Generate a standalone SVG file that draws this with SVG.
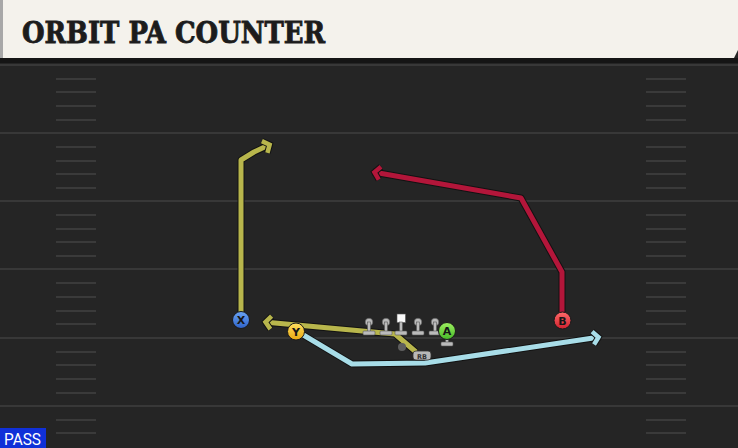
<svg xmlns="http://www.w3.org/2000/svg" width="738" height="448" viewBox="0 0 738 448">
<style>
.yard{stroke:#383838;stroke-width:2}
.hash{stroke:#3a3a3a;stroke-width:2}
.rt{fill:none;stroke-width:5;stroke-linejoin:round;stroke-linecap:butt}
.under{fill:none;stroke:#121212;stroke-width:7;stroke-linejoin:round}
.lbl{font-family:"DejaVu Sans","Liberation Sans",sans-serif;font-weight:bold;font-size:11px;fill:#161616;text-anchor:middle}
.ol{fill:#bbb;stroke:#555;stroke-width:0.6}
.chev{fill:none;stroke-width:4.5;stroke-linejoin:miter;stroke-linecap:butt}
.chevu{fill:none;stroke:#121212;stroke-width:6.5;stroke-linejoin:miter}
</style>
<defs>
<linearGradient id="gb" x1="0" y1="0" x2="0" y2="1"><stop offset="0" stop-color="#6aa4f4"/><stop offset="1" stop-color="#2e62c8"/></linearGradient>
<linearGradient id="gy" x1="0" y1="0" x2="0" y2="1"><stop offset="0" stop-color="#ffe060"/><stop offset="1" stop-color="#e8a810"/></linearGradient>
<linearGradient id="gg" x1="0" y1="0" x2="0" y2="1"><stop offset="0" stop-color="#9ef060"/><stop offset="1" stop-color="#46b828"/></linearGradient>
<linearGradient id="gr" x1="0" y1="0" x2="0" y2="1"><stop offset="0" stop-color="#ff6a6a"/><stop offset="1" stop-color="#d0202e"/></linearGradient>
<marker id="ao" viewBox="-12 -12 24 24" refX="0" refY="0" markerWidth="24" markerHeight="24" orient="auto" markerUnits="userSpaceOnUse"><path class="chevu" d="M-7,-6.5 L-1.5,0 L-7,6.5"/><path class="chev" stroke="#b8b64c" d="M-7,-6.5 L-1.5,0 L-7,6.5"/></marker>
<marker id="ar" viewBox="-12 -12 24 24" refX="0" refY="0" markerWidth="24" markerHeight="24" orient="auto" markerUnits="userSpaceOnUse"><path class="chevu" d="M-7,-6.5 L-1.5,0 L-7,6.5"/><path class="chev" stroke="#b3163a" d="M-7,-6.5 L-1.5,0 L-7,6.5"/></marker>
<marker id="ab" viewBox="-12 -12 24 24" refX="0" refY="0" markerWidth="24" markerHeight="24" orient="auto" markerUnits="userSpaceOnUse"><path class="chevu" d="M-7,-6.5 L-1.5,0 L-7,6.5"/><path class="chev" stroke="#a8dde8" d="M-7,-6.5 L-1.5,0 L-7,6.5"/></marker>
</defs>
<rect x="0" y="0" width="738" height="448" fill="#252525"/>
<g id="field">
<rect x="0" y="58" width="738" height="5" fill="#151515"/>
<line class="yard" x1="0" y1="65" x2="738" y2="65"/>
<line class="yard" x1="0" y1="133" x2="738" y2="133"/>
<line class="yard" x1="0" y1="201" x2="738" y2="201"/>
<line class="yard" x1="0" y1="269" x2="738" y2="269"/>
<line class="yard" x1="0" y1="338" x2="738" y2="338"/>
<line class="yard" x1="0" y1="406" x2="738" y2="406"/>
<path class="hash" d="M56,79H96M56,92H96M56,106H96M56,120H96M56,147H96M56,161H96M56,174H96M56,188H96M56,215H96M56,229H96M56,242H96M56,256H96M56,283H96M56,297H96M56,311H96M56,324H96M56,352H96M56,365H96M56,379H96M56,393H96M56,420H96M56,433H96
M646,79H686M646,92H686M646,106H686M646,120H686M646,147H686M646,161H686M646,174H686M646,188H686M646,215H686M646,229H686M646,242H686M646,256H686M646,283H686M646,297H686M646,311H686M646,324H686M646,352H686M646,365H686M646,379H686M646,393H686M646,420H686M646,433H686"/>
</g>
<g id="header">
<path d="M0,0 H738 V50 L734,58 H0 Z" fill="#f4f2ec"/>
<rect x="0" y="0" width="3" height="58" fill="#a8a8a8"/>
<text x="22" y="43" font-family="'DejaVu Serif','Liberation Serif',serif" font-weight="bold" font-size="29" font-stretch="condensed" fill="#1c1c1c" stroke="#1c1c1c" stroke-width="0.8" textLength="303" lengthAdjust="spacingAndGlyphs">ORBIT PA COUNTER</text>
</g>
<g id="connectors">
<polyline class="under" points="241,312 241,160 254,152 271,144"/>
<polyline class="rt" stroke="#b8b64c" points="241,312 241,160 254,152 271,144" marker-end="url(#ao)"/>
<polyline class="under" points="562,312 562,272 521,198 373,172"/>
<polyline class="rt" stroke="#b3163a" points="562,312 562,272 521,198 373,172" marker-end="url(#ar)"/>
<polyline class="under" points="416,352 395,334 264,322"/>
<polyline class="rt" stroke="#b8b64c" points="416,352 395,334 264,322" marker-end="url(#ao)"/>
<polyline class="under" points="300,333 352,364 425,363 600,337"/>
<polyline class="rt" stroke="#a8dde8" points="300,333 352,364 425,363 600,337" marker-end="url(#ab)"/>
</g>
<g id="line">
<g class="ol"><circle cx="369" cy="322" r="3.8"/><rect x="367.5" y="322" width="3" height="10"/><rect x="363" y="331" width="12" height="4" rx="1"/></g>
<g class="ol"><circle cx="386" cy="322" r="3.8"/><rect x="384.5" y="322" width="3" height="10"/><rect x="380" y="331" width="12" height="4" rx="1"/></g>
<g class="ol"><rect x="397" y="314" width="8.5" height="8.5" fill="#fafafa"/><rect x="399.5" y="322" width="3" height="10"/><rect x="395" y="331" width="12" height="4" rx="1"/></g>
<g class="ol"><circle cx="418" cy="322" r="3.8"/><rect x="416.5" y="322" width="3" height="10"/><rect x="412" y="331" width="12" height="4" rx="1"/></g>
<g class="ol"><circle cx="435" cy="322" r="3.8"/><rect x="433.5" y="322" width="3" height="10"/><rect x="429" y="331" width="12" height="4" rx="1"/></g>
</g>
<g id="qb"><circle cx="402" cy="347" r="4" fill="#5e5e5e"/></g>
<g id="rb"><rect x="413" y="351" width="18" height="9" rx="3" fill="#b8b8b8" stroke="#333" stroke-width="0.8"/><text x="422" y="358.5" font-family="'DejaVu Sans',sans-serif" font-weight="bold" font-size="6.5" fill="#333" text-anchor="middle">RB</text></g>
<g id="A"><rect x="445.5" y="337" width="3" height="6" class="ol"/><rect x="441" y="342" width="12" height="4" rx="1" class="ol"/><circle cx="447" cy="331" r="8.5" fill="url(#gg)" stroke="#1a1a1a" stroke-width="1"/><text class="lbl" x="447" y="335">A</text></g>
<g id="X"><circle cx="241" cy="320" r="8.5" fill="url(#gb)" stroke="#1a1a1a" stroke-width="1"/><text class="lbl" x="241" y="324">X</text></g>
<g id="Y"><circle cx="296" cy="331.5" r="8.5" fill="url(#gy)" stroke="#1a1a1a" stroke-width="1"/><text class="lbl" x="296" y="335.5">Y</text></g>
<g id="B"><circle cx="562.5" cy="320.5" r="8.5" fill="url(#gr)" stroke="#1a1a1a" stroke-width="1"/><text class="lbl" x="562.5" y="324.5">B</text></g>
<g id="pass"><rect x="0" y="428" width="46" height="20" fill="#1030d8"/><text x="4" y="445" font-family="'Roboto','Liberation Sans',sans-serif" font-size="16" fill="#ffffff" textLength="37" lengthAdjust="spacingAndGlyphs">PASS</text></g>
</svg>
